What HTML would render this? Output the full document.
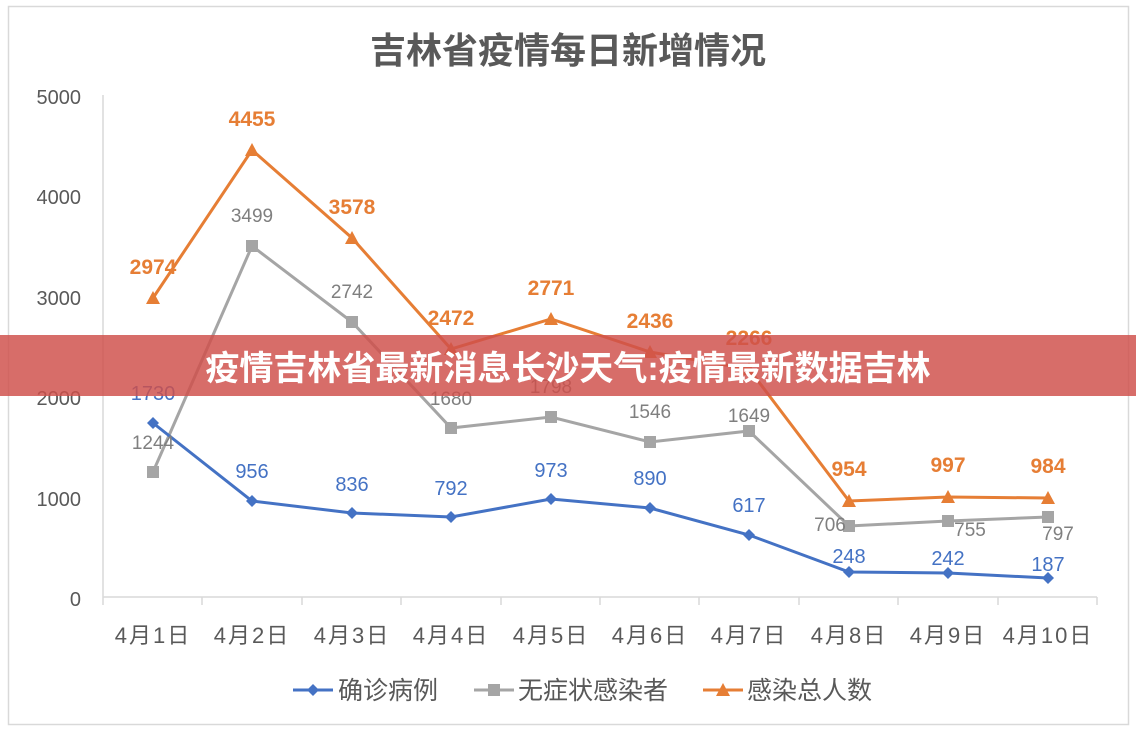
<!DOCTYPE html>
<html><head><meta charset="utf-8"><style>
body{margin:0;background:#fff;}
svg{display:block;font-family:"Liberation Sans","Noto Sans CJK SC",sans-serif;}
</style></head><body>
<svg width="1136" height="732" viewBox="0 0 1136 732">
<rect x="0" y="0" width="1136" height="732" fill="#fff"/>
<rect x="8.5" y="6.5" width="1120" height="718" fill="none" stroke="#d9d9d9" stroke-width="1.5"/>
<text x="568" y="63" text-anchor="middle" font-size="36" font-weight="bold" fill="#595959">吉林省疫情每日新增情况</text>
<g font-size="20" fill="#595959" text-anchor="end">
<text x="81" y="104">5000</text><text x="81" y="204">4000</text><text x="81" y="305">3000</text>
<text x="81" y="405">2000</text><text x="81" y="506">1000</text><text x="81" y="606">0</text>
</g>
<line x1="103" y1="95" x2="103" y2="597" stroke="#d9d9d9" stroke-width="1.5"/>
<line x1="103" y1="597" x2="1097" y2="597" stroke="#d9d9d9" stroke-width="1.5"/>
<g stroke="#d9d9d9" stroke-width="1.5">
<line x1="103" y1="597" x2="103" y2="605"/><line x1="202" y1="597" x2="202" y2="605"/><line x1="302" y1="597" x2="302" y2="605"/><line x1="401" y1="597" x2="401" y2="605"/><line x1="501" y1="597" x2="501" y2="605"/><line x1="600" y1="597" x2="600" y2="605"/><line x1="699" y1="597" x2="699" y2="605"/><line x1="799" y1="597" x2="799" y2="605"/><line x1="898" y1="597" x2="898" y2="605"/><line x1="998" y1="597" x2="998" y2="605"/><line x1="1097" y1="597" x2="1097" y2="605"/>
</g>
<g font-size="22" fill="#595959" text-anchor="middle" letter-spacing="2">
<text x="153" y="643">4月1日</text><text x="252" y="643">4月2日</text><text x="352" y="643">4月3日</text><text x="451" y="643">4月4日</text><text x="551" y="643">4月5日</text><text x="650" y="643">4月6日</text><text x="749" y="643">4月7日</text><text x="849" y="643">4月8日</text><text x="948" y="643">4月9日</text><text x="1048" y="643">4月10日</text>
</g>
<polyline fill="none" stroke="#a5a5a5" stroke-width="3" points="153,472 252,246 352,322 451,428 551,417 650,442 749,431 849,526 948,521 1048,517"/>
<g fill="#a5a5a5">
<rect x="147" y="466" width="12" height="12"/><rect x="246" y="240" width="12" height="12"/><rect x="346" y="316" width="12" height="12"/><rect x="445" y="422" width="12" height="12"/><rect x="545" y="411" width="12" height="12"/><rect x="644" y="436" width="12" height="12"/><rect x="743" y="425" width="12" height="12"/><rect x="843" y="520" width="12" height="12"/><rect x="942" y="515" width="12" height="12"/><rect x="1042" y="511" width="12" height="12"/>
</g>
<polyline fill="none" stroke="#e67e35" stroke-width="3" points="153,298 252,150 352,238 451,349 551,319 650,352 749,369 849,501 948,497 1048,498"/>
<g fill="#e67e35">
<polygon points="153,291 160,304 146,304"/><polygon points="252,143 259,156 245,156"/><polygon points="352,231 359,244 345,244"/><polygon points="451,342 458,355 444,355"/><polygon points="551,312 558,325 544,325"/><polygon points="650,345 657,358 643,358"/><polygon points="749,362 756,375 742,375"/><polygon points="849,494 856,507 842,507"/><polygon points="948,490 955,503 941,503"/><polygon points="1048,491 1055,504 1041,504"/>
</g>
<polyline fill="none" stroke="#4472c4" stroke-width="3" points="153,423 252,501 352,513 451,517 551,499 650,508 749,535 849,572 948,573 1048,578"/>
<g fill="#4472c4">
<polygon points="153,417 159,423 153,429 147,423"/><polygon points="252,495 258,501 252,507 246,501"/><polygon points="352,507 358,513 352,519 346,513"/><polygon points="451,511 457,517 451,523 445,517"/><polygon points="551,493 557,499 551,505 545,499"/><polygon points="650,502 656,508 650,514 644,508"/><polygon points="749,529 755,535 749,541 743,535"/><polygon points="849,566 855,572 849,578 843,572"/><polygon points="948,567 954,573 948,579 942,573"/><polygon points="1048,572 1054,578 1048,584 1042,578"/>
</g>
<g font-size="19" fill="#7f7f7f" text-anchor="middle">
<text x="153" y="449">1244</text><text x="252" y="222">3499</text><text x="352" y="298">2742</text><text x="451" y="405">1680</text><text x="551" y="393">1798</text><text x="650" y="418">1546</text><text x="749" y="422">1649</text><text x="830" y="531">706</text><text x="970" y="536">755</text><text x="1058" y="540">797</text>
</g>
<g font-size="21" font-weight="bold" fill="#e67e35" text-anchor="middle">
<text x="153" y="274">2974</text><text x="252" y="126">4455</text><text x="352" y="214">3578</text><text x="451" y="325">2472</text><text x="551" y="295">2771</text><text x="650" y="328">2436</text><text x="749" y="345">2266</text><text x="849" y="476">954</text><text x="948" y="472">997</text><text x="1048" y="473">984</text>
</g>
<g font-size="20" fill="#4472c4" text-anchor="middle">
<text x="153" y="400">1730</text><text x="252" y="478">956</text><text x="352" y="491">836</text><text x="451" y="495">792</text><text x="551" y="477">973</text><text x="650" y="485">890</text><text x="749" y="512">617</text><text x="849" y="563">248</text><text x="948" y="565">242</text><text x="1048" y="571">187</text>
</g>
<line x1="293" y1="690" x2="333" y2="690" stroke="#4472c4" stroke-width="3"/>
<polygon points="313,684 319,690 313,696 307,690" fill="#4472c4"/>
<text x="338" y="699" font-size="25" fill="#595959">确诊病例</text>
<line x1="474" y1="690" x2="514" y2="690" stroke="#a5a5a5" stroke-width="3"/>
<rect x="488" y="684" width="12" height="12" fill="#a5a5a5"/>
<text x="518" y="699" font-size="25" fill="#595959">无症状感染者</text>
<line x1="703" y1="690" x2="743" y2="690" stroke="#e67e35" stroke-width="3"/>
<polygon points="723,683 730,696 716,696" fill="#e67e35"/>
<text x="747" y="699" font-size="25" fill="#595959">感染总人数</text>
<rect x="0" y="335" width="1136" height="61" fill="#cf4f4b" fill-opacity="0.83"/>
<text x="568" y="380" text-anchor="middle" font-size="34" font-weight="bold" fill="#fff">疫情吉林省最新消息长沙天气:疫情最新数据吉林</text>
</svg>
</body></html>
